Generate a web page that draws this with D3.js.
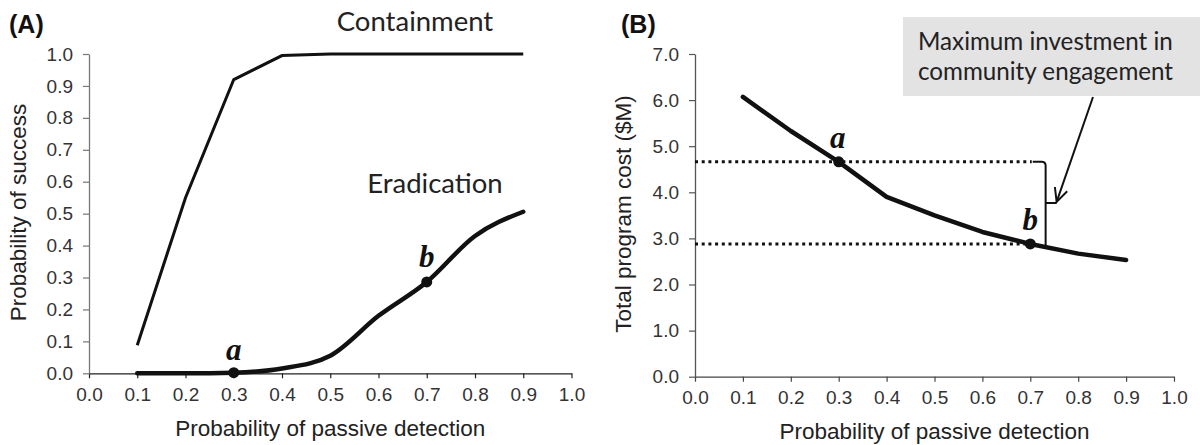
<!DOCTYPE html>
<meta charset="utf-8">
<head>
<style>
body { margin: 0; background: #fff; }
.tick text { font-family: "Liberation Sans", Arial, sans-serif; font-size: 19px; fill: #333; }
.axis-title { font-family: "Liberation Sans", Arial, sans-serif; font-size: 22.5px; fill: #222; }
.panel-title { font-family: "Liberation Sans", Arial, sans-serif; font-size: 25px; font-weight: bold; fill: #111; }
.note { font-family: Lato, "Open Sans", sans-serif; font-size: 27.5px; fill: #222; }
.box-note { font-family: Lato, "Open Sans", sans-serif; font-size: 24.2px; fill: #222; }
.pt-label { font-family: "Liberation Serif", "Times New Roman", serif; font-size: 31px; font-weight: bold; font-style: italic; fill: #111; }
</style>
</head>
<body>
<div id="chart"></div>
<script src="https://d3js.org/d3.v7.min.js"></script>
<script>

// data
var detection = [0.1, 0.2, 0.3, 0.4, 0.5, 0.6, 0.7, 0.8, 0.9];
var containment = [0.088, 0.55, 0.92, 0.995, 1.0, 1.0, 1.0, 1.0, 1.0];
var eradication = [0.0, 0.0, 0.002, 0.015, 0.055, 0.18, 0.286, 0.43, 0.506];
var programCost = [6.07, 5.33, 4.66, 3.9, 3.5, 3.14, 2.88, 2.67, 2.53];
var xTicks = [0, 0.1, 0.2, 0.3, 0.4, 0.5, 0.6, 0.7, 0.8, 0.9, 1.0];
var yTicksA = [0, 0.1, 0.2, 0.3, 0.4, 0.5, 0.6, 0.7, 0.8, 0.9, 1.0];
var yTicksB = [0, 1, 2, 3, 4, 5, 6, 7];
var pointA = 0.3, pointB = 0.7;

var svg = d3.select("#chart")
  .append("svg")
    .attr("width", 1200)
    .attr("height", 445);

var f1 = d3.format(".1f");

// ---------- panel A ----------
var xA = d3.scaleLinear().domain([0, 1]).range([89, 571.5]);
var yA = d3.scaleLinear().domain([0, 1]).range([373.3, 54]);

function drawAxes(x, y, yTicks, xColor, yColor) {
  var gx = svg.append("g")
    .attr("transform", "translate(0," + y(0) + ")")
    .call(d3.axisBottom(x).tickValues(xTicks).tickFormat(f1).tickSize(5).tickPadding(9).tickSizeOuter(0));
  gx.select(".domain").attr("stroke", xColor).attr("stroke-width", 1.3);
  gx.selectAll(".tick line").attr("stroke", xColor).attr("stroke-width", 1.2);
  var gy = svg.append("g")
    .attr("transform", "translate(" + x(0) + ",0)")
    .call(d3.axisLeft(y).tickValues(yTicks).tickFormat(f1).tickSize(6).tickPadding(10).tickSizeOuter(0));
  gy.select(".domain").attr("stroke", yColor).attr("stroke-width", 1.3);
  gy.selectAll(".tick line").attr("stroke", yColor).attr("stroke-width", 1.2);
}

drawAxes(xA, yA, yTicksA, "#222", "#777");

var lineCont = d3.line()
  .x(function(d, i) { return xA(detection[i]); })
  .y(function(d) { return yA(d); });
svg.append("path")
  .datum(containment)
  .attr("d", lineCont)
  .attr("fill", "none")
  .attr("stroke", "#111")
  .attr("stroke-width", 3);

var lineErad = d3.line()
  .curve(d3.curveMonotoneX)
  .x(function(d, i) { return xA(detection[i]); })
  .y(function(d) { return yA(d); });
svg.append("path")
  .datum(eradication)
  .attr("d", lineErad)
  .attr("fill", "none")
  .attr("stroke", "#111")
  .attr("stroke-width", 4.5)
  .attr("stroke-linecap", "round");

// marked points a and b
[pointA, pointB].forEach(function(p, k) {
  var v = eradication[detection.indexOf(p)];
  svg.append("circle")
    .attr("cx", xA(p)).attr("cy", yA(v)).attr("r", 5.5).attr("fill", "#111");
  svg.append("text")
    .attr("class", "pt-label")
    .attr("x", xA(p)).attr("y", yA(v) - (k == 0 ? 13 : 15))
    .attr("text-anchor", "middle")
    .text(k == 0 ? "a" : "b");
});

svg.append("text").attr("class", "note")
  .attr("x", 415).attr("y", 30.5).attr("text-anchor", "middle").text("Containment");
svg.append("text").attr("class", "note")
  .attr("x", 435).attr("y", 192.5).attr("text-anchor", "middle").text("Eradication");

svg.append("text").attr("class", "panel-title").attr("x", 9).attr("y", 33).text("(A)");

svg.append("text").attr("class", "axis-title")
  .attr("x", (xA(0) + xA(1)) / 2).attr("y", 436)
  .attr("text-anchor", "middle")
  .text("Probability of passive detection");
svg.append("text").attr("class", "axis-title")
  .attr("transform", "translate(26," + 212.5 + ") rotate(-90)")
  .attr("text-anchor", "middle")
  .text("Probability of success");

// ---------- panel B ----------
var xB = d3.scaleLinear().domain([0, 1]).range([695, 1174]);
var yB = d3.scaleLinear().domain([0, 7]).range([376.7, 54]);

drawAxes(xB, yB, yTicksB, "#444", "#555");

var costA = programCost[detection.indexOf(pointA)];
var costB = programCost[detection.indexOf(pointB)];

// dotted reference lines
var braceX = xB(0.732);
[[costA, 0.703], [costB, pointB]].forEach(function(d) {
  svg.append("line")
    .attr("x1", xB(0)).attr("x2", xB(d[1]))
    .attr("y1", yB(d[0])).attr("y2", yB(d[0]))
    .attr("stroke", "#111")
    .attr("stroke-width", 3)
    .attr("stroke-dasharray", "3,3.7");
});

var lineCost = d3.line()
  .x(function(d, i) { return xB(detection[i]); })
  .y(function(d) { return yB(d); });
svg.append("path")
  .datum(programCost)
  .attr("d", lineCost)
  .attr("fill", "none")
  .attr("stroke", "#111")
  .attr("stroke-width", 4.5)
  .attr("stroke-linecap", "round")
  .attr("stroke-linejoin", "round");

// bracket between the two costs
var yTop = yB(costA), yBot = yB(costB), yMid = (yTop + yBot) / 2;
svg.append("path")
  .attr("d", "M" + (xB(0.703) + 1) + "," + yTop +
             " H" + (braceX - 4) +
             " Q" + braceX + "," + yTop + " " + braceX + "," + (yTop + 4) +
             " V" + (yBot + 1) +
             " M" + braceX + "," + yMid + " H" + (braceX + 11))
  .attr("fill", "none")
  .attr("stroke", "#111")
  .attr("stroke-width", 2);

[pointA, pointB].forEach(function(p, k) {
  var v = programCost[detection.indexOf(p)];
  svg.append("circle")
    .attr("cx", xB(p)).attr("cy", yB(v)).attr("r", 5.5).attr("fill", "#111");
  svg.append("text")
    .attr("class", "pt-label")
    .attr("x", xB(p) + (k == 0 ? -1 : 0)).attr("y", yB(v) - 14)
    .attr("text-anchor", "middle")
    .text(k == 0 ? "a" : "b");
});

// annotation box and arrow
svg.append("rect")
  .attr("x", 903).attr("y", 17).attr("width", 297).attr("height", 79)
  .attr("fill", "#e3e3e3");
svg.append("text").attr("class", "box-note")
  .attr("x", 918).attr("y", 50).text("Maximum investment in");
svg.append("text").attr("class", "box-note")
  .attr("x", 918).attr("y", 80).text("community engagement");

var tipX = braceX + 11, tipY = yMid - 1;
var fromX = 1093, fromY = 97;
svg.append("line")
  .attr("x1", fromX).attr("y1", fromY).attr("x2", tipX).attr("y2", tipY)
  .attr("stroke", "#111").attr("stroke-width", 2);
var ang = Math.atan2(tipY - fromY, tipX - fromX);
var headLen = 15, spread = 0.45;
svg.append("path")
  .attr("d", "M" + (tipX - headLen * Math.cos(ang - spread)) + "," + (tipY - headLen * Math.sin(ang - spread)) +
             " L" + tipX + "," + tipY +
             " L" + (tipX - headLen * Math.cos(ang + spread)) + "," + (tipY - headLen * Math.sin(ang + spread)))
  .attr("fill", "none")
  .attr("stroke", "#111")
  .attr("stroke-width", 2);

svg.append("text").attr("class", "panel-title").attr("x", 621).attr("y", 33).text("(B)");

svg.append("text").attr("class", "axis-title")
  .attr("x", (xB(0) + xB(1)) / 2).attr("y", 439)
  .attr("text-anchor", "middle")
  .text("Probability of passive detection");
svg.append("text").attr("class", "axis-title")
  .attr("transform", "translate(631," + 214 + ") rotate(-90)")
  .attr("text-anchor", "middle")
  .text("Total program cost ($M)");

</script>
</body>
